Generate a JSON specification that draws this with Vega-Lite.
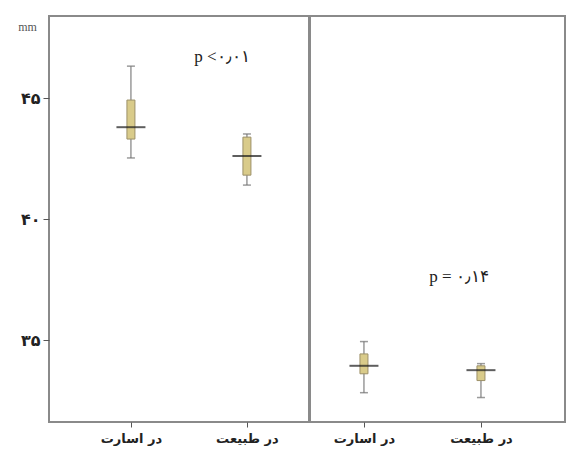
{
  "$schema": "https://vega.github.io/schema/vega-lite/v6.json",
  "padding": {"left": 16, "top": 15, "right": 0, "bottom": 0},
  "background": "white",
  "spacing": -2,
  "config": {
    "view": {"stroke": "#8a8a8a", "strokeWidth": 2},
    "axis": {"grid": false, "domain": false, "tickColor": "#555", "tickSize": 6, "labelColor": "#222"}
  },
  "datasets": {
    "left": [
      {"cat": "در اسارت", "lo": 42.53, "q1": 43.31, "med": 43.8, "q3": 44.92, "hi": 46.32},
      {"cat": "در طبیعت", "lo": 41.41, "q1": 41.82, "med": 42.61, "q3": 43.39, "hi": 43.52, "p": "p <۰٫۰۱", "py": 46.69}
    ],
    "right": [
      {"cat": "در اسارت", "lo": 32.84, "q1": 33.62, "med": 33.95, "q3": 34.44, "hi": 34.95},
      {"cat": "در طبیعت", "lo": 32.64, "q1": 33.34, "med": 33.77, "q3": 33.95, "hi": 34.04, "p": "p = ۰٫۱۴", "py": 37.62}
    ]
  },
  "hconcat": [
    {
      "width": 260,
      "height": 406,
      "data": {"name": "left"},
      "encoding": {
        "x": {
          "field": "cat", "type": "nominal", "sort": null, "title": null,
          "scale": {"type": "point", "padding": 0.6207, "align": 0.569},
          "axis": {"labelAngle": 0, "labelFont": "DejaVu Sans", "labelFontWeight": "bold", "labelFontSize": 13, "labelPadding": 5, "tickSize": 5}
        }
      },
      "layer": [
        {
          "mark": {"type": "rule", "color": "#808080", "strokeWidth": 1.2},
          "encoding": {
            "y": {"field": "lo", "type": "quantitative", "scale": {"domain": [31.63, 48.39], "nice": false, "zero": false},
              "title": "mm",
              "axis": {"values": [35, 40, 45], "labelExpr": "datum.value == 45 ? '۴۵' : datum.value == 40 ? '۴۰' : '۳۵'",
                "labelFont": "DejaVu Sans", "labelFontWeight": "bold", "labelFontSize": 16, "labelPadding": 3,
                "titleAngle": 0, "titleX": -22, "titleY": 10, "titleAlign": "center", "titleBaseline": "middle",
                "titleFont": "Liberation Serif", "titleFontWeight": "normal", "titleFontSize": 12, "titleColor": "#555"}},
            "y2": {"field": "hi"}
          }
        },
        {
          "mark": {"type": "tick", "color": "#707070", "size": 8, "thickness": 1.5},
          "encoding": {"y": {"field": "lo", "type": "quantitative"}}
        },
        {
          "mark": {"type": "tick", "color": "#707070", "size": 8, "thickness": 1.5},
          "encoding": {"y": {"field": "hi", "type": "quantitative"}}
        },
        {
          "mark": {"type": "bar", "size": 8, "fill": "#d9cb8a", "stroke": "#9c9068", "strokeWidth": 1},
          "encoding": {"y": {"field": "q1", "type": "quantitative"}, "y2": {"field": "q3"}}
        },
        {
          "mark": {"type": "tick", "color": "#1a1a1a", "size": 29, "thickness": 2},
          "encoding": {"y": {"field": "med", "type": "quantitative"}}
        },
        {
          "transform": [{"filter": "isValid(datum.p)"}],
          "mark": {"type": "text", "font": "Liberation Serif", "fontSize": 17, "color": "#222", "dx": -25},
          "encoding": {"y": {"field": "py", "type": "quantitative"}, "text": {"field": "p"}}
        }
      ]
    },
    {
      "width": 255,
      "height": 406,
      "data": {"name": "right"},
      "encoding": {
        "x": {
          "field": "cat", "type": "nominal", "sort": null, "title": null,
          "scale": {"type": "point", "padding": 0.5897, "align": 0.391},
          "axis": {"labelAngle": 0, "labelFont": "DejaVu Sans", "labelFontWeight": "bold", "labelFontSize": 13, "labelPadding": 5, "tickSize": 5}
        }
      },
      "layer": [
        {
          "mark": {"type": "rule", "color": "#808080", "strokeWidth": 1.2},
          "encoding": {
            "y": {"field": "lo", "type": "quantitative", "scale": {"domain": [31.63, 48.39], "nice": false, "zero": false}, "axis": null},
            "y2": {"field": "hi"}
          }
        },
        {
          "mark": {"type": "tick", "color": "#707070", "size": 8, "thickness": 1.5},
          "encoding": {"y": {"field": "lo", "type": "quantitative"}}
        },
        {
          "mark": {"type": "tick", "color": "#707070", "size": 8, "thickness": 1.5},
          "encoding": {"y": {"field": "hi", "type": "quantitative"}}
        },
        {
          "mark": {"type": "bar", "size": 8, "fill": "#d9cb8a", "stroke": "#9c9068", "strokeWidth": 1},
          "encoding": {"y": {"field": "q1", "type": "quantitative"}, "y2": {"field": "q3"}}
        },
        {
          "mark": {"type": "tick", "color": "#1a1a1a", "size": 29, "thickness": 2},
          "encoding": {"y": {"field": "med", "type": "quantitative"}}
        },
        {
          "transform": [{"filter": "isValid(datum.p)"}],
          "mark": {"type": "text", "font": "Liberation Serif", "fontSize": 17, "color": "#222", "dx": -22},
          "encoding": {"y": {"field": "py", "type": "quantitative"}, "text": {"field": "p"}}
        }
      ]
    }
  ]
}
